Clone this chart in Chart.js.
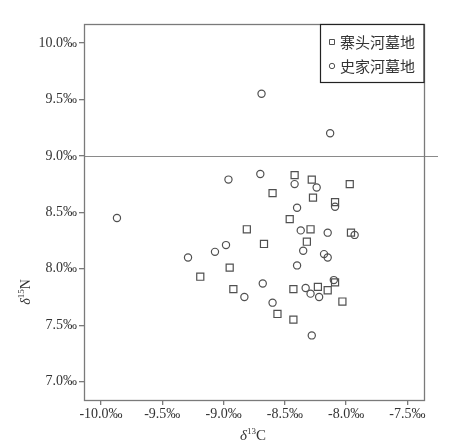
<!DOCTYPE html>
<html>
<head>
<meta charset="utf-8">
<script src="https://cdn.jsdelivr.net/npm/chart.js@4.4.1/dist/chart.umd.min.js"></script>
<style>
  html, body { margin: 0; padding: 0; background: #fff; }
  #wrap { width: 457px; height: 447px; }
</style>
</head>
<body>
<div id="wrap"><canvas id="c" width="457" height="447"></canvas></div>
<script>
// ---- data ----
const seriesNames = ['寨头河墓地', '史家河墓地'];
const zhaitouheX = [-8.42, -8.28, -7.97, -8.60, -8.27, -8.09, -8.46, -8.81, -8.29, -7.96, -8.67, -8.32, -8.95, -9.19, -8.09, -8.92, -8.43, -8.23, -8.15, -8.03, -8.56, -8.43];
const zhaitouheY = [8.83, 8.79, 8.75, 8.67, 8.63, 8.59, 8.44, 8.35, 8.35, 8.32, 8.22, 8.24, 8.01, 7.93, 7.88, 7.82, 7.82, 7.84, 7.81, 7.71, 7.60, 7.55];
const shijiaheX = [-9.87, -8.69, -8.13, -8.70, -8.96, -8.42, -8.24, -8.40, -8.09, -8.37, -8.15, -7.93, -8.98, -9.07, -9.29, -8.35, -8.18, -8.15, -8.40, -8.10, -8.68, -8.33, -8.29, -8.22, -8.83, -8.60, -8.28];
const shijiaheY = [8.45, 9.55, 9.20, 8.84, 8.79, 8.75, 8.72, 8.54, 8.55, 8.34, 8.32, 8.30, 8.21, 8.15, 8.10, 8.16, 8.13, 8.10, 8.03, 7.90, 7.87, 7.83, 7.78, 7.75, 7.75, 7.70, 7.41];
const xTicks = [-10.0, -9.5, -9.0, -8.5, -8.0, -7.5];
const yTicks = [7.0, 7.5, 8.0, 8.5, 9.0, 9.5, 10.0];
const referenceLineY = 9.0;
const xRange = [-10.139, -7.364];
const yRange = [6.838, 10.168];

const toPoints = (xs, ys) => xs.map((x, i) => ({ x: x, y: ys[i] }));

const SERIF = '"Liberation Serif", "Times New Roman", serif';
const CJK = '"Noto Sans CJK SC", "Noto Sans CJK JP", sans-serif';
const MARK = '#505050';

function drawSupText(ctx, parts, cx, cy, rotate) {
  ctx.save();
  ctx.translate(cx, cy);
  if (rotate) ctx.rotate(-Math.PI / 2);
  ctx.textBaseline = 'alphabetic';
  ctx.textAlign = 'left';
  let total = 0;
  parts.forEach(p => { ctx.font = p.font; p.w = ctx.measureText(p.t).width; total += p.w; });
  let x = -total / 2;
  parts.forEach(p => {
    ctx.font = p.font;
    ctx.fillText(p.t, x, p.dy);
    x += p.w;
  });
  ctx.restore();
}

const decor = {
  id: 'decor',
  beforeDatasetsDraw(chart) {
    const { ctx, chartArea: a, scales } = chart;
    const y = Math.round(scales.y.getPixelForValue(referenceLineY)) + 0.5;
    ctx.save();
    ctx.strokeStyle = '#8a8a8a';
    ctx.lineWidth = 1;
    ctx.beginPath();
    ctx.moveTo(a.left, y);
    ctx.lineTo(438, y);
    ctx.stroke();
    // frame
    ctx.strokeStyle = '#7a7a7a';
    ctx.lineWidth = 1.3;
    ctx.strokeRect(Math.round(a.left) + 0.5, Math.round(a.top) + 0.5, Math.round(a.right - a.left), Math.round(a.bottom - a.top));
    ctx.restore();
  },
  afterDraw(chart) {
    const { ctx, chartArea: a } = chart;
    ctx.save();
    // legend box
    const lx = 320.5, ly = a.top + 0.5, lw = a.right - 320.5, lh = 58;
    ctx.fillStyle = '#fff';
    ctx.fillRect(lx, ly, lw, lh);
    ctx.strokeStyle = '#222';
    ctx.lineWidth = 1.2;
    ctx.strokeRect(lx, ly, lw, lh);
    const rows = [ly + 17.5, ly + 41.5];
    chart.data.datasets.forEach((ds, i) => {
      ctx.strokeStyle = MARK; ctx.fillStyle = '#fff'; ctx.lineWidth = 1;
      ctx.beginPath();
      if (ds.pointStyle === 'rect') ctx.rect(329.5, rows[i] - 2.5, 5, 5);
      else ctx.arc(332, rows[i], 2.7, 0, Math.PI * 2);
      ctx.fill(); ctx.stroke();
      ctx.fillStyle = '#333';
      ctx.font = '15px ' + CJK;
      ctx.textBaseline = 'middle';
      ctx.textAlign = 'left';
      ctx.fillText(ds.label, 340, rows[i]);
    });
    // axis titles
    ctx.fillStyle = '#333';
    drawSupText(ctx, [
      { t: 'δ', font: 'italic 15px ' + SERIF, dy: 0 },
      { t: '13', font: '9px ' + SERIF, dy: -6 },
      { t: 'C', font: '15px ' + SERIF, dy: 0 }
    ], (a.left + a.right) / 2 - 1, 440, false);
    drawSupText(ctx, [
      { t: 'δ', font: 'italic 14px ' + SERIF, dy: 0 },
      { t: '15', font: '9px ' + SERIF, dy: -6 },
      { t: 'N', font: '14px ' + SERIF, dy: 0 }
    ], 30, 292, true);
    ctx.restore();
  }
};

const tickFmt = v => Number(v).toFixed(1) + '‰';

new Chart(document.getElementById('c'), {
  type: 'scatter',
  data: {
    datasets: [
      {
        label: seriesNames[0],
        data: toPoints(zhaitouheX, zhaitouheY),
        pointStyle: 'rect',
        pointRadius: 5,
        pointBorderWidth: 1.2,
        borderColor: MARK,
        backgroundColor: 'rgba(255,255,255,0)',
        pointHoverRadius: 5
      },
      {
        label: seriesNames[1],
        data: toPoints(shijiaheX, shijiaheY),
        pointStyle: 'circle',
        pointRadius: 3.6,
        pointBorderWidth: 1.2,
        borderColor: MARK,
        backgroundColor: 'rgba(255,255,255,0)',
        pointHoverRadius: 3.6
      }
    ]
  },
  options: {
    responsive: false,
    animation: false,
    devicePixelRatio: 1,
    layout: { padding: { left: 0, top: 24, right: 33, bottom: 0 } },
    plugins: { legend: { display: false }, tooltip: { enabled: false } },
    scales: {
      x: {
        type: 'linear',
        min: xRange[0], max: xRange[1],
        afterFit: s => { s.height = 47; },
        afterBuildTicks: s => { s.ticks = xTicks.map(v => ({ value: v })); },
        grid: { display: true, drawOnChartArea: false, drawTicks: true, tickLength: 5, color: '#7a7a7a', lineWidth: 1.3 },
        border: { display: false },
        ticks: { callback: tickFmt, color: '#333', padding: 1, maxRotation: 0, autoSkip: false, font: { family: SERIF, size: 14 } }
      },
      y: {
        type: 'linear',
        min: yRange[0], max: yRange[1],
        afterFit: s => { s.width = 84; },
        afterBuildTicks: s => { s.ticks = yTicks.map(v => ({ value: v })); },
        grid: { display: true, drawOnChartArea: false, drawTicks: true, tickLength: 5, color: '#7a7a7a', lineWidth: 1.3 },
        border: { display: false },
        ticks: { callback: tickFmt, color: '#333', padding: 2, autoSkip: false, font: { family: SERIF, size: 14 } }
      }
    }
  },
  plugins: [decor]
});
</script>
</body>
</html>
